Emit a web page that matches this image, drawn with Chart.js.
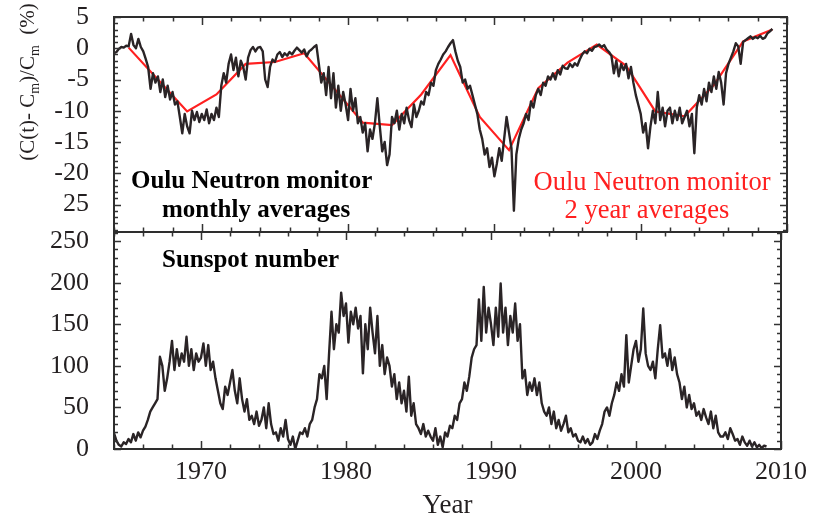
<!DOCTYPE html>
<html><head><meta charset="utf-8">
<script src="https://cdn.jsdelivr.net/npm/chart.js@4.4.1/dist/chart.umd.min.js"></script>
<style>
html,body{margin:0;padding:0;background:#fff;overflow:hidden;width:815px;height:514px;}
#topc{position:absolute;left:0;top:0;}
#botc{position:absolute;left:0;top:224px;}
</style></head><body>
<canvas id="topc" width="815" height="240" style="width:815px;height:240px"></canvas>
<canvas id="botc" width="815" height="300" style="width:815px;height:300px"></canvas>
<script>
// ---------------- DATA ----------------
const X_MIN = 1964, X_MAX = 2010;
const xTickYears = [1970, 1980, 1990, 2000, 2010];
const topYTicks = [5, 0, -5, -10, -15, -20, -25];
const topYTickLabels = ['5', '0', '-5', '-10', '-15', '-20', '25'];
const botYTicks = [0, 50, 100, 150, 200, 250];

// Oulu neutron monitor, (C(t)-Cm)/Cm in %, two-monthly samples from 1964.0
const neutronStart = 1964, samplesPerYear = 6;
const neutronValues = [
  -0.8,-0.6,-0.1,0.2,0.1,0.4,      // 1964
  0.3,2.3,0.5,0.0,1.5,0.2,         // 1965
  -0.5,-1.7,-3.0,-6.5,-4.0,-5.5,   // 1966
  -4.5,-7.0,-5.0,-7.8,-6.0,-8.2,   // 1967
  -7.0,-9.0,-8.5,-11.0,-13.6,-10.5,// 1968
  -12.5,-13.6,-10.0,-11.5,-10.2,-11.8, // 1969
  -10.5,-11.5,-9.8,-12.0,-10.5,-11.5,  // 1970
  -9.5,-11.0,-6.0,-4.0,-5.5,-2.5,  // 1971
  -1.0,-3.5,-1.5,-4.5,-2.0,-3.0,   // 1972
  -5.0,-1.5,-0.3,0.2,-0.5,0.1,     // 1973
  0.2,-0.5,-5.0,-6.2,-3.0,-1.8,    // 1974
  -2.2,-1.0,-0.6,-1.4,-0.8,-1.2,   // 1975
  -0.6,-1.0,-0.4,0.1,-0.3,-0.7,    // 1976
  -0.2,-1.3,-0.5,-0.2,0.2,0.5,     // 1977
  -2.5,-5.5,-4.0,-7.5,-3.0,-8.0,   // 1978
  -4.0,-9.5,-6.0,-10.0,-7.0,-9.0,  // 1979
  -11.5,-6.5,-10.0,-8.0,-12.0,-11.0, // 1980
  -13.5,-12.0,-16.5,-13.0,-14.5,-12.0, // 1981
  -8.0,-12.5,-16.5,-15.0,-18.7,-17.0,  // 1982
  -11.0,-12.0,-10.0,-13.0,-10.5,-12.0, // 1983
  -9.5,-11.5,-12.6,-9.0,-11.0,-10.0,   // 1984
  -8.5,-9.0,-7.0,-7.5,-5.5,-6.0,   // 1985
  -3.5,-2.5,-1.8,-1.0,-0.5,0.2,    // 1986
  0.8,1.3,-0.5,-2.0,-3.0,-5.5,     // 1987
  -5.0,-6.5,-6.0,-7.5,-9.0,-10.5,  // 1988
  -13.0,-14.5,-17.0,-16.0,-19.0,-17.5, // 1989
  -20.5,-18.5,-16.0,-18.0,-14.5,-11.0, // 1990
  -13.5,-16.0,-26.0,-17.0,-14.5,-13.0, // 1991
  -12.0,-10.5,-11.5,-8.5,-9.5,-7.5,    // 1992
  -6.5,-7.5,-5.5,-6.0,-4.5,-5.0,   // 1993
  -4.0,-5.0,-3.5,-4.2,-2.8,-3.2,   // 1994
  -3.3,-2.5,-3.0,-2.4,-2.8,-1.8,   // 1995
  -1.0,-0.5,-0.8,-0.1,-0.4,0.2,    // 1996
  0.3,0.6,0.2,0.5,-0.2,-0.6,       // 1997
  -1.2,-4.0,-2.0,-4.5,-2.5,-3.5,   // 1998
  -2.5,-4.8,-3.0,-5.5,-7.5,-9.0,   // 1999
  -10.5,-13.5,-12.0,-16.0,-12.5,-10.0, // 2000
  -12.0,-7.0,-11.5,-9.5,-12.5,-10.0,   // 2001
  -9.5,-12.0,-10.0,-11.5,-9.5,-12.0,   // 2002
  -11.0,-10.0,-12.5,-10.5,-16.8,-9.5,  // 2003
  -7.5,-9.0,-6.5,-8.5,-5.5,-7.0,   // 2004
  -4.5,-6.5,-3.8,-5.5,-9.0,-4.0,   // 2005
  -2.5,-1.5,-0.5,0.8,0.3,-2.5,     // 2006
  1.0,1.3,1.6,1.9,1.5,1.8,         // 2007
  1.6,2.0,1.5,1.7,2.4,2.7,         // 2008
  3.1                              // 2009
];

// Oulu neutron monitor, 2 year averages
const twoYearYears  = [1965,1967,1969,1971,1973,1975,1977,1979,1981,1983,1985,1987,1989,1991,1993,1995,1997,1999,2001,2003,2005,2007,2009];
const twoYearValues = [0.1,-5.0,-10.1,-7.4,-2.5,-2.2,-0.8,-6.3,-11.9,-12.3,-7.4,-1.1,-11.0,-16.3,-6.4,-2.3,0.6,-2.8,-10.1,-10.9,-5.9,1.1,3.0];

// Sunspot number, two-monthly samples from 1964.0
const sunspotValues = [
  19,10,5,3,8,6,          // 1964
  12,8,18,10,20,14,       // 1965
  22,27,35,45,50,55,      // 1966
  60,111,100,70,85,105,   // 1967
  130,95,120,100,115,105, // 1968
  135,100,120,95,115,105, // 1969
  110,127,100,125,95,105, // 1970
  85,70,55,48,75,65,      // 1971
  80,95,70,55,85,60,      // 1972
  45,60,35,40,30,45,      // 1973
  28,35,50,25,55,30,      // 1974
  18,20,10,25,15,35,      // 1975
  12,5,15,0,10,20,        // 1976
  18,25,15,30,35,50,      // 1977
  60,90,85,100,60,115,    // 1978
  165,120,150,140,188,160,// 1979
  175,128,165,150,170,145,// 1980
  160,91,150,120,170,140, // 1981
  115,160,100,125,90,110, // 1982
  100,75,90,60,80,55,     // 1983
  70,45,87,40,55,30,      // 1984
  25,18,30,15,22,15,      // 1985
  10,25,5,15,2,20,        // 1986
  15,28,25,40,35,55,      // 1987
  60,80,70,87,110,120,    // 1988
  125,180,130,195,140,170,// 1989
  150,125,170,135,199,140,// 1990
  170,125,160,140,175,130,// 1991
  150,85,95,65,80,70,     // 1992
  85,65,80,55,45,40,      // 1993
  50,30,45,25,35,22,      // 1994
  30,40,20,25,15,18,      // 1995
  10,8,15,7,12,5,         // 1996
  8,18,12,22,30,45,       // 1997
  50,40,55,65,80,70,      // 1998
  90,75,137,80,100,120,   // 1999
  130,105,120,169,115,100,// 2000
  95,105,85,120,149,110,  // 2001
  115,100,120,95,110,90,  // 2002
  80,60,75,50,65,48,      // 2003
  55,40,45,35,48,38,      // 2004
  30,45,25,40,20,15,      // 2005
  15,20,12,25,18,10,      // 2006
  12,5,15,8,4,10,         // 2007
  3,8,2,5,1,4,            // 2008
  3                       // 2009
];

// ---------------- BUILD ----------------
const FONT = '"Liberation Serif", "Times New Roman", Times, serif';
const INK = '#231f20';
const toSeries = vals => vals.map((v, i) => ({ x: neutronStart + i / samplesPerYear, y: v }));
const neutronPoints = toSeries(neutronValues);
const sunspotPoints = toSeries(sunspotValues);
const twoYearPoints = twoYearYears.map((yr, i) => ({ x: yr, y: twoYearValues[i] }));

const framePlugin = {
  id: 'frameTicks',
  afterDatasetsDraw(chart, args, o) {
    const { ctx, chartArea: a, scales: { x, y } } = chart;
    ctx.save();
    ctx.strokeStyle = '#333';
    ctx.lineWidth = 1.5;
    ctx.beginPath();
    for (let yr = X_MIN; yr <= X_MAX; yr += 2) {
      const px = Math.round(x.getPixelForValue(yr)) + 0.5;
      const len = yr % 10 === 0 ? 8 : 4.5;
      ctx.moveTo(px, a.bottom); ctx.lineTo(px, a.bottom - len);
      ctx.moveTo(px, a.top); ctx.lineTo(px, a.top + len);
    }
    for (let v = o.from; v <= o.to; v += o.minor) {
      const py = Math.round(y.getPixelForValue(v)) + 0.5;
      const len = v % o.major === 0 ? 7 : 4;
      ctx.moveTo(a.left, py); ctx.lineTo(a.left + len, py);
      ctx.moveTo(a.right, py); ctx.lineTo(a.right - len, py);
    }
    ctx.stroke();
    ctx.lineWidth = 2;
    ctx.strokeStyle = '#2e2e2e';
    ctx.strokeRect(a.left, a.top, a.right - a.left, a.bottom - a.top);
    ctx.restore();
  }
};

const textPlugin = {
  id: 'panelText',
  afterDraw(chart, args, o) {
    const ctx = chart.ctx;
    ctx.save();
    (o.items || []).forEach(t => {
      ctx.font = t.font;
      ctx.fillStyle = t.color;
      ctx.textAlign = t.align || 'left';
      ctx.textBaseline = 'alphabetic';
      ctx.fillText(t.text, t.x, t.y);
    });
    if (o.yTitle) {
      const T = o.yTitle;
      ctx.translate(T.x, T.y);
      ctx.rotate(-Math.PI / 2);
      const big = `${T.size}px ${FONT}`, small = `${T.subSize}px ${FONT}`;
      let total = 0;
      const w = T.parts.map(p => { ctx.font = p[1] ? small : big; const m = ctx.measureText(p[0]).width; total += m; return m; });
      let xx = -total / 2;
      ctx.fillStyle = INK;
      ctx.textAlign = 'left';
      T.parts.forEach((p, i) => {
        ctx.font = p[1] ? small : big;
        ctx.fillText(p[0], xx, p[1] ? T.base + T.subShift : T.base);
        xx += w[i];
      });
    }
    ctx.restore();
  }
};

// hidden tick marks used only as a gap between labels and the frame
const yGrid = { display: true, drawOnChartArea: false, drawTicks: true, tickLength: 25, color: 'rgba(0,0,0,0)' };

new Chart(document.getElementById('topc'), {
  type: 'line',
  data: { datasets: [
    { data: neutronPoints, borderColor: '#2a2426', borderWidth: 2.4, pointRadius: 0, tension: 0, borderJoinStyle: 'round' },
    { data: twoYearPoints, borderColor: '#ff2020', borderWidth: 2.2, pointRadius: 0, tension: 0 }
  ]},
  options: {
    responsive: false, animation: false, devicePixelRatio: 1,
    layout: { padding: { left: 0, right: 28, top: 17, bottom: 8 } },
    plugins: {
      legend: { display: false }, tooltip: { enabled: false },
      frameTicks: { from: -29, to: 5, minor: 1, major: 5 },
      panelText: {
        items: [
          { text: 'Oulu Neutron monitor', x: 131, y: 188, font: `bold 25px ${FONT}`, color: '#000' },
          { text: 'monthly averages', x: 162, y: 217, font: `bold 25px ${FONT}`, color: '#000' },
          { text: 'Oulu Neutron monitor', x: 652, y: 190, font: `26.5px ${FONT}`, color: '#ff2020', align: 'center' },
          { text: '2 year averages', x: 647, y: 218, font: `26.5px ${FONT}`, color: '#ff2020', align: 'center' }
        ],
        yTitle: { x: 28, y: 82, size: 21, subSize: 14, base: 6, subShift: 5,
          parts: [['(C(t)- C', false], ['m', true], [')/C', false], ['m', true], ['  (%)', false]] }
      }
    },
    scales: {
      x: { type: 'linear', min: X_MIN, max: X_MAX, display: false },
      y: {
        min: -29.4, max: 5,
        grid: yGrid, border: { display: false },
        afterBuildTicks: s => { s.ticks = topYTicks.map(v => ({ value: v })); },
        afterFit: s => { s.width = 114; },
        ticks: { padding: 0, color: INK, font: { family: FONT, size: 26, lineHeight: 0.5 },
          callback: (v, i) => topYTickLabels[i] }
      }
    }
  },
  plugins: [framePlugin, textPlugin]
});

new Chart(document.getElementById('botc'), {
  type: 'line',
  data: { datasets: [
    { data: sunspotPoints, borderColor: '#2a2426', borderWidth: 2.4, pointRadius: 0, tension: 0, borderJoinStyle: 'round' }
  ]},
  options: {
    responsive: false, animation: false, devicePixelRatio: 1,
    layout: { padding: { left: 0, right: 28, top: 8, bottom: 0 } },
    plugins: {
      legend: { display: false }, tooltip: { enabled: false },
      frameTicks: { from: 0, to: 260, minor: 10, major: 50 },
      panelText: {
        items: [
          { text: 'Sunspot number', x: 162, y: 43, font: `bold 25px ${FONT}`, color: '#000' }
        ]
      }
    },
    scales: {
      x: {
        type: 'linear', min: X_MIN, max: X_MAX,
        grid: { display: false, drawTicks: false }, border: { display: false },
        afterBuildTicks: s => { s.ticks = xTickYears.map(v => ({ value: v })); },
        afterFit: s => { s.height = 75; },
        ticks: { padding: 8, color: INK, font: { family: FONT, size: 26 }, maxRotation: 0, autoSkip: false,
          callback: v => String(v) },
        title: { display: true, text: 'Year', color: INK, font: { family: FONT, size: 27 }, padding: { top: 0, bottom: 2 } }
      },
      y: {
        min: 0, max: 261,
        grid: yGrid, border: { display: false },
        afterBuildTicks: s => { s.ticks = botYTicks.map(v => ({ value: v })); },
        afterFit: s => { s.width = 114; },
        ticks: { padding: 0, color: INK, font: { family: FONT, size: 26, lineHeight: 0.5 },
          callback: v => String(v) }
      }
    }
  },
  plugins: [framePlugin, textPlugin]
});
</script>
</body></html>
